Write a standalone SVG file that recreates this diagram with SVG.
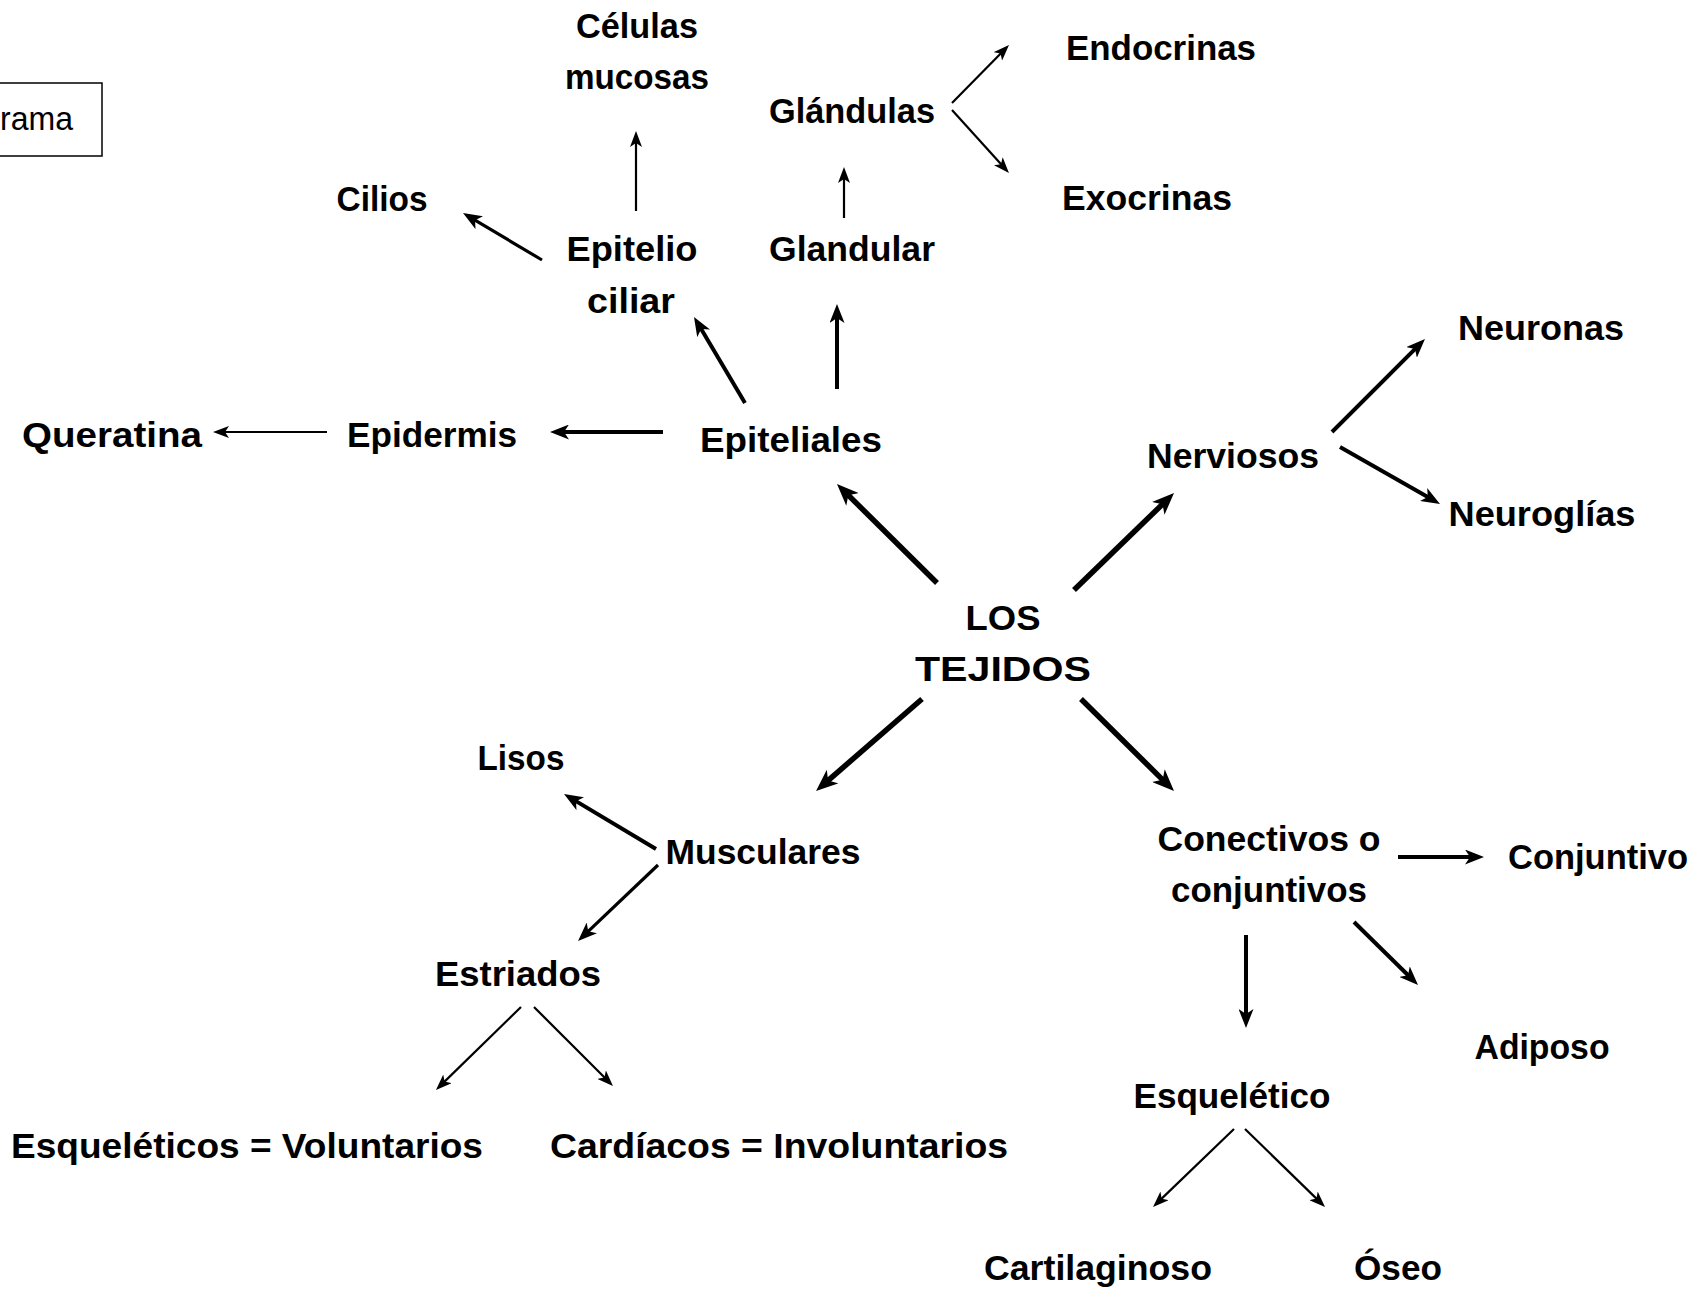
<svg xmlns="http://www.w3.org/2000/svg" width="1708" height="1289" viewBox="0 0 1708 1289">
<style>
text{font-family:"Liberation Sans",Arial,sans-serif;font-size:35px;font-weight:bold;fill:#000;text-anchor:middle}
.reg{font-weight:normal;text-anchor:start;font-size:33px}
line{stroke:#000;fill:none}
.t1{stroke-width:2.2;marker-end:url(#m1)}
.t2{stroke-width:3.2;marker-end:url(#m2)}
.t3{stroke-width:4;marker-end:url(#m2)}
.t4{stroke-width:5.5;marker-end:url(#m3)}
</style>
<defs>
<marker id="m1" markerUnits="userSpaceOnUse" markerWidth="16" markerHeight="12" refX="8" refY="6" orient="auto" viewBox="0 0 16 12"><path d="M0,0 L16,6 L0,12 L4,6 z" fill="#000"/></marker>
<marker id="m2" markerUnits="userSpaceOnUse" markerWidth="19" markerHeight="15" refX="9" refY="7.5" orient="auto" viewBox="0 0 19 15"><path d="M0,0 L19,7.5 L0,15 L5,7.5 z" fill="#000"/></marker>
<marker id="m3" markerUnits="userSpaceOnUse" markerWidth="22" markerHeight="18" refX="10" refY="9" orient="auto" viewBox="0 0 22 18"><path d="M0,0 L22,9 L0,18 L6,9 z" fill="#000"/></marker>
</defs>
<rect x="0" y="0" width="1708" height="1289" fill="#fff"/>
<g id="box">
<rect x="-5" y="83" width="107" height="73" fill="none" stroke="#000" stroke-width="1.5"/>
<text class="reg" x="0" y="130" textLength="73" lengthAdjust="spacingAndGlyphs">rama</text>
</g>
<g id="celulas"><text x="637" y="38" textLength="122" lengthAdjust="spacingAndGlyphs">Células</text><text x="637" y="89" textLength="144" lengthAdjust="spacingAndGlyphs">mucosas</text></g>
<g id="glandulas"><text x="852" y="123" textLength="166" lengthAdjust="spacingAndGlyphs">Glándulas</text></g>
<g id="endocrinas"><text x="1161" y="60" textLength="190" lengthAdjust="spacingAndGlyphs">Endocrinas</text></g>
<g id="exocrinas"><text x="1147" y="210" textLength="170" lengthAdjust="spacingAndGlyphs">Exocrinas</text></g>
<g id="cilios"><text x="382" y="211" textLength="91" lengthAdjust="spacingAndGlyphs">Cilios</text></g>
<g id="epitelio"><text x="632" y="261" textLength="131" lengthAdjust="spacingAndGlyphs">Epitelio</text><text x="631" y="313" textLength="88" lengthAdjust="spacingAndGlyphs">ciliar</text></g>
<g id="glandular"><text x="852" y="261" textLength="166" lengthAdjust="spacingAndGlyphs">Glandular</text></g>
<g id="neuronas"><text x="1541" y="340" textLength="166" lengthAdjust="spacingAndGlyphs">Neuronas</text></g>
<g id="queratina"><text x="112" y="447" textLength="180" lengthAdjust="spacingAndGlyphs">Queratina</text></g>
<g id="epidermis"><text x="432" y="447" textLength="170" lengthAdjust="spacingAndGlyphs">Epidermis</text></g>
<g id="epiteliales"><text x="791" y="452" textLength="182" lengthAdjust="spacingAndGlyphs">Epiteliales</text></g>
<g id="nerviosos"><text x="1233" y="468" textLength="172" lengthAdjust="spacingAndGlyphs">Nerviosos</text></g>
<g id="neuroglias"><text x="1542" y="526" textLength="187" lengthAdjust="spacingAndGlyphs">Neuroglías</text></g>
<g id="tejidos"><text x="1003" y="630" textLength="75" lengthAdjust="spacingAndGlyphs">LOS</text><text x="1003" y="681" textLength="176" lengthAdjust="spacingAndGlyphs">TEJIDOS</text></g>
<g id="lisos"><text x="521" y="770" textLength="87" lengthAdjust="spacingAndGlyphs">Lisos</text></g>
<g id="musculares"><text x="763" y="864" textLength="195" lengthAdjust="spacingAndGlyphs">Musculares</text></g>
<g id="conectivos"><text x="1269" y="851" textLength="223" lengthAdjust="spacingAndGlyphs">Conectivos o</text><text x="1269" y="902" textLength="196" lengthAdjust="spacingAndGlyphs">conjuntivos</text></g>
<g id="conjuntivo"><text x="1598" y="869" textLength="180" lengthAdjust="spacingAndGlyphs">Conjuntivo</text></g>
<g id="estriados"><text x="518" y="986" textLength="166" lengthAdjust="spacingAndGlyphs">Estriados</text></g>
<g id="adiposo"><text x="1542" y="1059" textLength="135" lengthAdjust="spacingAndGlyphs">Adiposo</text></g>
<g id="esqueletico"><text x="1232" y="1108" textLength="197" lengthAdjust="spacingAndGlyphs">Esquelético</text></g>
<g id="esqueleticos"><text x="247" y="1158" textLength="472" lengthAdjust="spacingAndGlyphs">Esqueléticos = Voluntarios</text></g>
<g id="cardiacos"><text x="779" y="1158" textLength="458" lengthAdjust="spacingAndGlyphs">Cardíacos = Involuntarios</text></g>
<g id="cartilaginoso"><text x="1098" y="1280" textLength="228" lengthAdjust="spacingAndGlyphs">Cartilaginoso</text></g>
<g id="oseo"><text x="1398" y="1280" textLength="88" lengthAdjust="spacingAndGlyphs">Óseo</text></g>
<g id="connectors">
<line class="t1" x1="636" y1="211" x2="636" y2="139"/>
<line class="t1" x1="844" y1="218" x2="844" y2="175"/>
<line class="t1" x1="952" y1="103" x2="1003.4" y2="50.7"/>
<line class="t1" x1="952" y1="110" x2="1003.6" y2="167.1"/>
<line class="t2" x1="542" y1="260" x2="471.6" y2="218.1"/>
<line class="t3" x1="745" y1="403" x2="699.1" y2="325.6"/>
<line class="t3" x1="837" y1="389" x2="837" y2="314"/>
<line class="t3" x1="663" y1="432" x2="560" y2="432"/>
<line class="t1" x1="327" y1="432" x2="221" y2="432"/>
<line class="t4" x1="937" y1="583" x2="845.5" y2="492.4"/>
<line class="t4" x1="1074" y1="590" x2="1165.4" y2="501.4"/>
<line class="t3" x1="1332" y1="432" x2="1417.9" y2="346.1"/>
<line class="t3" x1="1340" y1="447" x2="1431.3" y2="499"/>
<line class="t4" x1="922" y1="699" x2="825.1" y2="783.1"/>
<line class="t4" x1="1081" y1="699" x2="1165.5" y2="782.6"/>
<line class="t3" x1="656" y1="849" x2="572.6" y2="799.1"/>
<line class="t2" x1="658" y1="865" x2="585.3" y2="934.1"/>
<line class="t3" x1="1398" y1="857" x2="1474" y2="857"/>
<line class="t3" x1="1246" y1="935" x2="1246" y2="1018"/>
<line class="t3" x1="1354" y1="922" x2="1410.9" y2="978"/>
<line class="t1" x1="521" y1="1007" x2="441.7" y2="1084.4"/>
<line class="t1" x1="534" y1="1007" x2="607.3" y2="1080.3"/>
<line class="t1" x1="1234" y1="1129" x2="1158.8" y2="1201.4"/>
<line class="t1" x1="1245" y1="1129" x2="1319.3" y2="1201.4"/>
</g>
</svg>
